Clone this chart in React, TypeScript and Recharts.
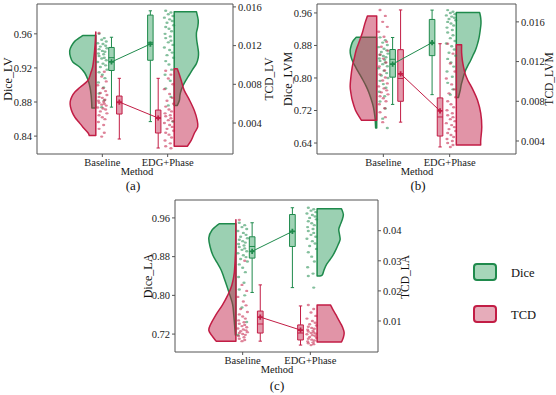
import { ComposedChart, Scatter, XAxis, YAxis, ReferenceArea } from "recharts"

const methods = ["Baseline", "EDG+Phase"]

const GREEN = "#1f8a4c"
const GREEN_FILL = "#2e9d5e"
const RED = "#c21d45"
const RED_FILL = "#c02048"
const FONT = "'Liberation Serif', 'Times New Roman', serif"

// ---- (a) LV ----
const lvDiceBase = [0.96, 0.955, 0.953, 0.951, 0.949, 0.948, 0.946, 0.945, 0.943, 0.942, 0.94, 0.939, 0.937, 0.936, 0.934, 0.932, 0.931, 0.929, 0.927, 0.925, 0.923, 0.921, 0.918, 0.915, 0.912, 0.908, 0.903, 0.897, 0.89, 0.882, 0.874]
const lvDiceEdg = [0.987, 0.985, 0.983, 0.981, 0.979, 0.977, 0.975, 0.973, 0.97, 0.968, 0.966, 0.963, 0.96, 0.957, 0.955, 0.952, 0.95, 0.947, 0.944, 0.941, 0.938, 0.935, 0.932, 0.928, 0.924, 0.918, 0.912, 0.905, 0.896, 0.886, 0.876, 0.857]
const lvTcdBase = [0.0133, 0.0093, 0.0088, 0.0083, 0.0079, 0.0076, 0.0073, 0.0071, 0.0069, 0.0067, 0.0066, 0.0064, 0.0063, 0.0062, 0.0061, 0.006, 0.0059, 0.0058, 0.0056, 0.0055, 0.0054, 0.0052, 0.005, 0.0048, 0.0046, 0.0044, 0.0041, 0.0038, 0.0034, 0.003, 0.0026]
const lvTcdEdg = [0.0094, 0.009, 0.0086, 0.008, 0.0075, 0.007, 0.0066, 0.0063, 0.006, 0.0057, 0.0054, 0.0052, 0.005, 0.0048, 0.0047, 0.0045, 0.0043, 0.0042, 0.004, 0.0038, 0.0036, 0.0034, 0.0032, 0.003, 0.0028, 0.0025, 0.0022, 0.0019, 0.0016, 0.0014]
// violin outline: [value, relative half width]
const lvDiceBaseViolin = [[0.958, 0.5], [0.952, 0.78], [0.946, 0.93], [0.94, 1.0], [0.933, 0.97], [0.927, 0.88], [0.921, 0.62], [0.914, 0.42], [0.906, 0.3], [0.897, 0.22], [0.888, 0.18], [0.88, 0.16], [0.873, 0.15]]
const lvDiceEdgViolin = [[0.986, 0.85], [0.976, 0.92], [0.968, 0.9], [0.961, 0.85], [0.953, 0.86], [0.945, 0.9], [0.938, 0.93], [0.932, 0.92], [0.925, 0.85], [0.918, 0.7], [0.912, 0.58], [0.906, 0.46], [0.9, 0.35], [0.894, 0.27], [0.888, 0.22], [0.882, 0.2], [0.876, 0.12]]
const lvTcdBaseViolin = [[0.0134, 0.0], [0.012, 0.03], [0.0108, 0.07], [0.0098, 0.12], [0.0091, 0.2], [0.0084, 0.3], [0.0077, 0.6], [0.0072, 0.8], [0.0067, 0.92], [0.0062, 0.98], [0.0057, 0.97], [0.0051, 0.9], [0.0046, 0.8], [0.0041, 0.65], [0.0036, 0.5], [0.003, 0.3], [0.0027, 0.25]]
const lvTcdEdgViolin = [[0.0096, 0.12], [0.009, 0.2], [0.0084, 0.27], [0.0074, 0.38], [0.0064, 0.58], [0.0053, 0.77], [0.0043, 0.88], [0.0036, 0.9], [0.003, 0.78], [0.0022, 0.65], [0.0016, 0.5]]
// box: [low, q1, median, q3, high, mean]
const lvDiceBaseBox = [0.874, 0.917, 0.932, 0.944, 0.956, 0.927]
const lvDiceEdgBox = [0.857, 0.929, 0.95, 0.982, 0.987, 0.948]
const lvTcdBaseBox = [0.00235, 0.00493, 0.0061, 0.00679, 0.00862, 0.00617]
const lvTcdEdgBox = [0.00142, 0.00297, 0.0045, 0.00534, 0.00862, 0.00452]
const lvDiceTicks = [0.84, 0.88, 0.92, 0.96]
const lvTcdTicks = [0.004, 0.008, 0.012, 0.016]

// ---- (b) LVM ----
const lvmDiceBase = [0.9, 0.893, 0.887, 0.881, 0.876, 0.872, 0.868, 0.864, 0.86, 0.857, 0.854, 0.851, 0.848, 0.845, 0.842, 0.838, 0.834, 0.829, 0.824, 0.818, 0.812, 0.806, 0.8, 0.793, 0.785, 0.776, 0.766, 0.755, 0.742, 0.725, 0.7, 0.677]
const lvmDiceEdg = [0.967, 0.963, 0.96, 0.957, 0.954, 0.951, 0.948, 0.945, 0.942, 0.938, 0.934, 0.929, 0.924, 0.918, 0.912, 0.905, 0.898, 0.891, 0.885, 0.878, 0.87, 0.862, 0.855, 0.847, 0.838, 0.828, 0.816, 0.803, 0.788, 0.772, 0.759]
const lvmTcdBase = [0.0172, 0.0166, 0.016, 0.0155, 0.015, 0.0145, 0.014, 0.0135, 0.0131, 0.0127, 0.0123, 0.0119, 0.0115, 0.0111, 0.0107, 0.0104, 0.0101, 0.0098, 0.0095, 0.0093, 0.0091, 0.0089, 0.0087, 0.0085, 0.0083, 0.008, 0.0077, 0.0073, 0.0069, 0.0064, 0.0059]
const lvmTcdEdg = [0.0138, 0.0128, 0.0118, 0.011, 0.0103, 0.0097, 0.0092, 0.0088, 0.0084, 0.008, 0.0077, 0.0074, 0.0071, 0.0068, 0.0066, 0.0064, 0.0062, 0.006, 0.0058, 0.0056, 0.0054, 0.0052, 0.005, 0.0048, 0.0046, 0.0044, 0.0042, 0.004, 0.0038, 0.0036, 0.0034]
const lvmDiceBaseViolin = [[0.9, 0.77], [0.89, 0.9], [0.88, 0.96], [0.868, 1.0], [0.855, 0.98], [0.84, 0.9], [0.825, 0.78], [0.81, 0.65], [0.795, 0.52], [0.78, 0.4], [0.765, 0.3], [0.75, 0.22], [0.735, 0.15], [0.72, 0.1], [0.7, 0.06], [0.677, 0.04]]
const lvmDiceEdgViolin = [[0.961, 0.88], [0.948, 0.92], [0.934, 0.93], [0.917, 0.9], [0.9, 0.86], [0.884, 0.8], [0.868, 0.72], [0.856, 0.63], [0.843, 0.54], [0.831, 0.44], [0.819, 0.35], [0.806, 0.28], [0.794, 0.23], [0.782, 0.18], [0.77, 0.15], [0.752, 0.08]]
const lvmTcdBaseViolin = [[0.0166, 0.35], [0.0158, 0.45], [0.0149, 0.54], [0.014, 0.66], [0.0132, 0.77], [0.0123, 0.85], [0.0115, 0.92], [0.0105, 0.97], [0.0095, 1.0], [0.0088, 0.97], [0.0081, 0.92], [0.0071, 0.8], [0.0064, 0.65], [0.0061, 0.58]]
const lvmTcdEdgViolin = [[0.0137, 0.2], [0.0129, 0.2], [0.0121, 0.23], [0.0115, 0.27], [0.0108, 0.33], [0.0102, 0.42], [0.0097, 0.52], [0.0092, 0.62], [0.0081, 0.8], [0.0068, 0.92], [0.0054, 0.96], [0.0041, 0.92], [0.0036, 0.92]]
const lvmDiceBaseBox = [0.735, 0.802, 0.846, 0.87, 0.8996, 0.834]
const lvmDiceEdgBox = [0.759, 0.855, 0.885, 0.944, 0.967, 0.887]
const lvmTcdBaseBox = [0.0059, 0.008, 0.0103, 0.0132, 0.0172, 0.01077]
const lvmTcdEdgBox = [0.0034, 0.0045, 0.00642, 0.00834, 0.0138, 0.00703]
const lvmDiceTicks = [0.64, 0.72, 0.8, 0.88, 0.96]
const lvmTcdTicks = [0.004, 0.008, 0.012, 0.016]

// ---- (c) LA ----
const laDiceBase = [0.95, 0.945, 0.941, 0.937, 0.933, 0.929, 0.925, 0.921, 0.918, 0.915, 0.912, 0.909, 0.906, 0.903, 0.9, 0.897, 0.894, 0.891, 0.887, 0.883, 0.879, 0.875, 0.87, 0.864, 0.857, 0.848, 0.838, 0.826, 0.812, 0.8, 0.775, 0.745, 0.718]
const laDiceEdg = [0.981, 0.978, 0.975, 0.972, 0.969, 0.966, 0.963, 0.96, 0.957, 0.953, 0.949, 0.945, 0.941, 0.937, 0.933, 0.929, 0.925, 0.921, 0.917, 0.912, 0.907, 0.902, 0.896, 0.889, 0.88, 0.87, 0.858, 0.845, 0.84, 0.816]
const laTcdBase = [0.0436, 0.03, 0.022, 0.02, 0.018, 0.0165, 0.0152, 0.014, 0.013, 0.0122, 0.0115, 0.0108, 0.0102, 0.0096, 0.0091, 0.0087, 0.0083, 0.0079, 0.0075, 0.0072, 0.0069, 0.0066, 0.0063, 0.006, 0.0057, 0.0054, 0.005, 0.0046, 0.0041, 0.0037, 0.0033]
const laTcdEdg = [0.0153, 0.014, 0.0128, 0.0117, 0.0108, 0.01, 0.0094, 0.0089, 0.0085, 0.0081, 0.0077, 0.0074, 0.0071, 0.0068, 0.0065, 0.0062, 0.006, 0.0058, 0.0056, 0.0053, 0.005, 0.0047, 0.0044, 0.0041, 0.0038, 0.0035, 0.0032, 0.0029, 0.0026, 0.0023, 0.002]
const laDiceBaseViolin = [[0.948, 0.62], [0.935, 0.88], [0.919, 1.0], [0.9, 0.95], [0.883, 0.85], [0.868, 0.7], [0.853, 0.55], [0.838, 0.45], [0.822, 0.35], [0.8, 0.22], [0.781, 0.12], [0.76, 0.08], [0.74, 0.05], [0.718, 0.02]]
const laDiceEdgViolin = [[0.979, 0.9], [0.967, 0.97], [0.955, 0.92], [0.945, 0.85], [0.936, 0.8], [0.925, 0.83], [0.915, 0.85], [0.905, 0.78], [0.895, 0.7], [0.884, 0.6], [0.874, 0.48], [0.864, 0.35], [0.853, 0.26], [0.843, 0.2], [0.84, 0.12]]
const laTcdBaseViolin = [[0.0436, 0.0], [0.035, 0.01], [0.0319, 0.02], [0.026, 0.06], [0.0219, 0.15], [0.0186, 0.3], [0.0153, 0.5], [0.0119, 0.75], [0.0086, 0.95], [0.0069, 1.0], [0.0053, 0.9], [0.0033, 0.73]]
const laTcdEdgViolin = [[0.0153, 0.5], [0.0135, 0.6], [0.012, 0.7], [0.0103, 0.8], [0.0087, 0.9], [0.0072, 0.97], [0.006, 1.0], [0.0045, 0.97], [0.003, 0.9]]
const laDiceBaseBox = [0.806, 0.877, 0.901, 0.921, 0.95, 0.891]
const laDiceEdgBox = [0.816, 0.901, 0.932, 0.967, 0.981, 0.932]
const laTcdBaseBox = [0.0033, 0.006, 0.009, 0.0133, 0.022, 0.0113]
const laTcdEdgBox = [0.002, 0.0037, 0.006, 0.0087, 0.015, 0.007]
const laDiceTicks = [0.72, 0.8, 0.88, 0.96]
const laTcdTicks = [0.01, 0.02, 0.03, 0.04]

// x placement (category 0 = Baseline, 1 = EDG+Phase)
const POS = {
  violinBase: -0.1,
  ptsBase: 0.0,
  boxDiceBase: 0.14,
  boxTcdBase: 0.26,
  boxDiceEdg: 0.735,
  boxTcdEdg: 0.855,
  ptsEdg: 1.02,
  violinEdg: 1.1,
}
const VIOLIN_W = 0.4
const BOX_HALF = 0.042
const CAP_HALF = 0.025
const jitter = [-0.05, 0.03, -0.01, 0.06, -0.07, 0.01, 0.05, -0.03, 0.07, -0.05, 0.0, 0.04, -0.06, 0.02]

type P = { x: number; y: number }

function smoothViolin(pts: P[]) {
  const prof = pts.slice(1, -1)
  let d = `M${pts[0].x},${pts[0].y}L${prof[0].x},${prof[0].y}`
  for (let i = 0; i < prof.length - 1; i++) {
    const p0 = prof[i - 1] || prof[i]
    const p1 = prof[i]
    const p2 = prof[i + 1]
    const p3 = prof[i + 2] || p2
    const c1x = p1.x + (p2.x - p0.x) / 6
    const c1y = p1.y + (p2.y - p0.y) / 6
    const c2x = p2.x - (p3.x - p1.x) / 6
    const c2y = p2.y - (p3.y - p1.y) / 6
    d += `C${c1x},${c1y},${c2x},${c2y},${p2.x},${p2.y}`
  }
  const last = pts[pts.length - 1]
  return d + `L${last.x},${last.y}Z`
}

function segPath(pts: P[]) {
  let d = ""
  for (let i = 0; i + 1 < pts.length; i += 2) d += `M${pts[i].x},${pts[i].y}L${pts[i + 1].x},${pts[i + 1].y}`
  return d
}

function polyPath(pts: P[]) {
  return pts.map((p, i) => `${i ? "L" : "M"}${p.x},${p.y}`).join("") + "Z"
}

const noDot = () => <g />

function violin(key: string, profile: number[][], x0: number, dir: number, axis: string, color: string, fill: string) {
  const data = [{ x: x0, y: profile[0][0] }]
  profile.forEach(([v, w]) => data.push({ x: x0 + dir * w * VIOLIN_W, y: v }))
  data.push({ x: x0, y: profile[profile.length - 1][0] })
  return (
    <Scatter
      key={key}
      data={data}
      dataKey="y"
      yAxisId={axis}
      isAnimationActive={false}
      shape={noDot}
      line={(p: { points: P[] }) => (
        <path d={smoothViolin(p.points)} fill={fill} fillOpacity={0.48} stroke={color} strokeWidth={1.5} strokeLinejoin="round" />
      )}
    />
  )
}

function box(key: string, s: number[], x: number, axis: string, color: string, fill: string) {
  const [lo, q1, med, q3, hi] = s
  const rect = [
    { x: x - BOX_HALF, y: q1 },
    { x: x + BOX_HALF, y: q1 },
    { x: x + BOX_HALF, y: q3 },
    { x: x - BOX_HALF, y: q3 },
  ]
  const segs = [
    { x, y: lo }, { x, y: q1 },
    { x, y: q3 }, { x, y: hi },
    { x: x - CAP_HALF, y: lo }, { x: x + CAP_HALF, y: lo },
    { x: x - CAP_HALF, y: hi }, { x: x + CAP_HALF, y: hi },
    { x: x - BOX_HALF, y: med }, { x: x + BOX_HALF, y: med },
  ]
  return [
    <Scatter
      key={key + "-r"}
      data={rect}
      dataKey="y"
      yAxisId={axis}
      isAnimationActive={false}
      shape={noDot}
      line={(p: { points: P[] }) => <path d={polyPath(p.points)} fill={fill} fillOpacity={0.45} stroke={color} strokeWidth={1} />}
    />,
    <Scatter
      key={key + "-s"}
      data={segs}
      dataKey="y"
      yAxisId={axis}
      isAnimationActive={false}
      shape={noDot}
      line={(p: { points: P[] }) => <path d={segPath(p.points)} fill="none" stroke={color} strokeWidth={1} />}
    />,
  ]
}

function dots(key: string, values: number[], x: number, axis: string, color: string) {
  const data = values.map((v, i) => ({ x: x + jitter[i % jitter.length], y: v }))
  return (
    <Scatter
      key={key}
      data={data}
      dataKey="y"
      yAxisId={axis}
      isAnimationActive={false}
      shape={(p: { cx: number; cy: number }) => <ellipse cx={p.cx} cy={p.cy} rx={1.6} ry={1.2} fill={color} fillOpacity={0.55} />}
    />
  )
}

function meanLine(key: string, a: number[], b: number[], xa: number, xb: number, axis: string, color: string) {
  const data = [{ x: xa, y: a[5] }, { x: xb, y: b[5] }]
  return (
    <Scatter
      key={key}
      data={data}
      dataKey="y"
      yAxisId={axis}
      isAnimationActive={false}
      line={{ stroke: color, strokeWidth: 1 }}
      shape={(p: { cx: number; cy: number }) => (
        <path d={`M${p.cx - 2.6},${p.cy}H${p.cx + 2.6}M${p.cx},${p.cy - 2.6}V${p.cy + 2.6}`} stroke={color} strokeWidth={1.8} />
      )}
    />
  )
}

type PanelProps = {
  left: number
  top: number
  w: number
  h: number
  diceDomain: number[]
  tcdDomain: number[]
  diceTicks: number[]
  tcdTicks: number[]
  tcdDigits: number
  dice: { base: number[]; edg: number[]; baseV: number[][]; edgV: number[][]; baseB: number[]; edgB: number[] }
  tcd: { base: number[]; edg: number[]; baseV: number[][]; edgV: number[][]; baseB: number[]; edgB: number[] }
}

const tickStyle = { fontSize: 10.5, fill: "#222", fontFamily: FONT }

function Panel({ left, top, w, h, diceDomain, tcdDomain, diceTicks, tcdTicks, tcdDigits, dice, tcd }: PanelProps) {
  return (
    <div style={{ position: "absolute", left: left - 37, top: top - 4 }}>
      <ComposedChart width={w + 84} height={h + 25} margin={{ top: 4, right: 7, bottom: 3, left: 7 }}>
        <XAxis
          type="number"
          dataKey="x"
          domain={[-1, 2]}
          ticks={[0, 1]}
          interval={0}
          allowDataOverflow
          tickFormatter={(v) => methods[v]}
          height={18}
          tickSize={3}
          axisLine={false}
          tickLine={{ stroke: "#555" }}
          tick={tickStyle}
        />
        <YAxis
          yAxisId="dice"
          type="number"
          domain={diceDomain}
          ticks={diceTicks}
          interval={0}
          allowDataOverflow
          width={30}
          tickSize={3}
          axisLine={false}
          tickLine={{ stroke: "#555" }}
          tick={tickStyle}
          tickFormatter={(v) => v.toFixed(2)}
        />
        <YAxis
          yAxisId="tcd"
          orientation="right"
          type="number"
          domain={tcdDomain}
          ticks={tcdTicks}
          interval={0}
          allowDataOverflow
          width={40}
          tickSize={3}
          axisLine={false}
          tickLine={{ stroke: "#555" }}
          tick={tickStyle}
          tickFormatter={(v) => v.toFixed(tcdDigits)}
        />
        {violin("vdb", dice.baseV, POS.violinBase, -1, "dice", GREEN, GREEN_FILL)}
        {violin("vde", dice.edgV, POS.violinEdg, 1, "dice", GREEN, GREEN_FILL)}
        {violin("vtb", tcd.baseV, POS.violinBase, -1, "tcd", RED, RED_FILL)}
        {violin("vte", tcd.edgV, POS.violinEdg, 1, "tcd", RED, RED_FILL)}
        {dots("pdb", dice.base, POS.ptsBase, "dice", GREEN)}
        {dots("pde", dice.edg, POS.ptsEdg, "dice", GREEN)}
        {dots("ptb", tcd.base, POS.ptsBase, "tcd", RED)}
        {dots("pte", tcd.edg, POS.ptsEdg, "tcd", RED)}
        {box("bdb", dice.baseB, POS.boxDiceBase, "dice", GREEN, GREEN_FILL)}
        {box("bde", dice.edgB, POS.boxDiceEdg, "dice", GREEN, GREEN_FILL)}
        {box("btb", tcd.baseB, POS.boxTcdBase, "tcd", RED, RED_FILL)}
        {box("bte", tcd.edgB, POS.boxTcdEdg, "tcd", RED, RED_FILL)}
        {meanLine("md", dice.baseB, dice.edgB, POS.boxDiceBase, POS.boxDiceEdg, "dice", GREEN)}
        {meanLine("mt", tcd.baseB, tcd.edgB, POS.boxTcdBase, POS.boxTcdEdg, "tcd", RED)}
        <ReferenceArea
          yAxisId="dice"
          x1={-1}
          x2={2}
          y1={diceDomain[0]}
          y2={diceDomain[1]}
          fill="none"
          stroke="#555"
          strokeWidth={1}
          ifOverflow="visible"
        />
      </ComposedChart>
    </div>
  )
}

function Label({ x, y, text, size, rotate }: { x: number; y: number; text: string; size: number; rotate?: boolean }) {
  return (
    <div
      style={{
        position: "absolute",
        left: x,
        top: y,
        transform: `translate(-50%, -50%)${rotate ? " rotate(-90deg)" : ""}`,
        fontFamily: FONT,
        fontSize: size,
        color: "#111",
        whiteSpace: "nowrap",
        lineHeight: rotate ? 1.3 : 1,
      }}
    >
      {text}
    </div>
  )
}

function LegendKey({ x, y, color, label }: { x: number; y: number; color: string; label: string }) {
  return (
    <>
      <div
        style={{
          position: "absolute",
          left: x,
          top: y,
          width: 20,
          height: 14,
          border: `2.5px solid ${color}`,
          borderRadius: 4,
          background: color === GREEN ? "#a6d6b9" : "#e6acba",
        }}
      />
      <div style={{ position: "absolute", left: x + 38, top: y + 9.5, transform: "translateY(-50%)", fontFamily: FONT, fontSize: 12.5, lineHeight: 1.3, color: "#111" }}>
        {label}
      </div>
    </>
  )
}

export default function App() {
  return (
    <div style={{ position: "absolute", left: 0, top: 0, width: 556, height: 395, overflow: "hidden", background: "#fff" }}>
      <Panel
        left={37}
        top={4}
        w={196}
        h={150}
        diceDomain={[0.819, 0.995]}
        tcdDomain={[0.0008, 0.0163]}
        diceTicks={lvDiceTicks}
        tcdTicks={lvTcdTicks}
        tcdDigits={3}
        dice={{ base: lvDiceBase, edg: lvDiceEdg, baseV: lvDiceBaseViolin, edgV: lvDiceEdgViolin, baseB: lvDiceBaseBox, edgB: lvDiceEdgBox }}
        tcd={{ base: lvTcdBase, edg: lvTcdEdg, baseV: lvTcdBaseViolin, edgV: lvTcdEdgViolin, baseB: lvTcdBaseBox, edgB: lvTcdEdgBox }}
      />
      <Panel
        left={317}
        top={4}
        w={199}
        h={150}
        diceDomain={[0.613, 0.982]}
        tcdDomain={[0.00269, 0.0178]}
        diceTicks={lvmDiceTicks}
        tcdTicks={lvmTcdTicks}
        tcdDigits={3}
        dice={{ base: lvmDiceBase, edg: lvmDiceEdg, baseV: lvmDiceBaseViolin, edgV: lvmDiceEdgViolin, baseB: lvmDiceBaseBox, edgB: lvmDiceEdgBox }}
        tcd={{ base: lvmTcdBase, edg: lvmTcdEdg, baseV: lvmTcdBaseViolin, edgV: lvmTcdEdgViolin, baseB: lvmTcdBaseBox, edgB: lvmTcdEdgBox }}
      />
      <Panel
        left={175}
        top={200}
        w={203}
        h={152}
        diceDomain={[0.683, 0.997]}
        tcdDomain={[-0.0003, 0.0502]}
        diceTicks={laDiceTicks}
        tcdTicks={laTcdTicks}
        tcdDigits={2}
        dice={{ base: laDiceBase, edg: laDiceEdg, baseV: laDiceBaseViolin, edgV: laDiceEdgViolin, baseB: laDiceBaseBox, edgB: laDiceEdgBox }}
        tcd={{ base: laTcdBase, edg: laTcdEdg, baseV: laTcdBaseViolin, edgV: laTcdEdgViolin, baseB: laTcdBaseBox, edgB: laTcdEdgBox }}
      />

      <Label x={9} y={79} text="Dice_LV" size={12} rotate />
      <Label x={269} y={79} text="TCD_LV" size={11.5} rotate />
      <Label x={137} y={172} text="Method" size={10.5} />
      <Label x={133} y={185} text="(a)" size={13} />

      <Label x={289} y={79} text="Dice_LVM" size={12} rotate />
      <Label x={549} y={79} text="TCD_LVM" size={11.5} rotate />
      <Label x={417} y={172} text="Method" size={10.5} />
      <Label x={418} y={185} text="(b)" size={13} />

      <Label x={149} y={276} text="Dice_LA" size={12} rotate />
      <Label x={405} y={277} text="TCD_LA" size={11.5} rotate />
      <Label x={277} y={370} text="Method" size={10.5} />
      <Label x={277} y={385} text="(c)" size={13} />

      <LegendKey x={473} y={263} color={GREEN} label="Dice" />
      <LegendKey x={473} y={305} color={RED} label="TCD" />
    </div>
  )
}
